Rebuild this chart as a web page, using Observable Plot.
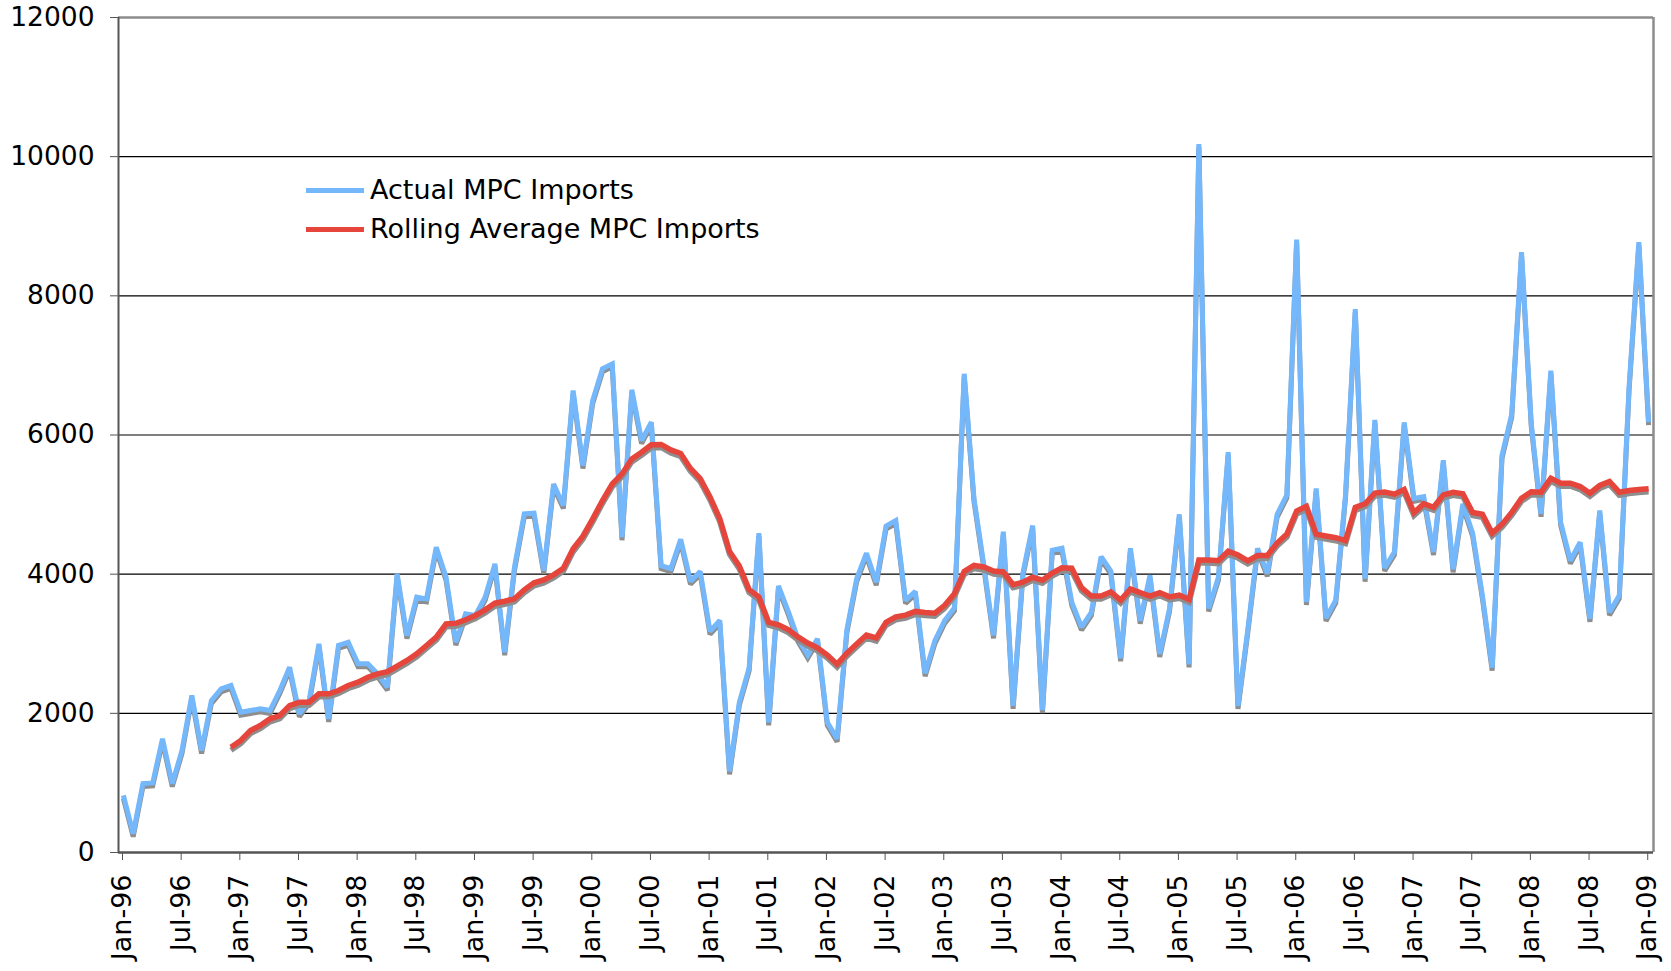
<!DOCTYPE html>
<html>
<head>
<meta charset="utf-8">
<script src="https://cdn.jsdelivr.net/npm/d3@7"></script>
<script src="https://cdn.jsdelivr.net/npm/@observablehq/plot@0.6"></script>
<style>
  body { margin: 0; background: #fff; }
  #wrap { position: relative; width: 1671px; height: 971px; overflow: hidden; }
  .legend-row { position: absolute; left: 306px; height: 38px; line-height: 38px; display: flex; align-items: center;
    font-family: "DejaVu Sans", Verdana, sans-serif; font-size: 27px; color: #000; white-space: nowrap; }
  .legend-row .sw { display: inline-block; width: 58px; height: 5px; margin-right: 6px; }
</style>
</head>
<body>
<div id="wrap"></div>
<script>
// Tick labels of the category axis (one every 6 months)
const xTickLabels = ["Jan-96","Jul-96","Jan-97","Jul-97","Jan-98","Jul-98","Jan-99","Jul-99","Jan-00","Jul-00",
  "Jan-01","Jul-01","Jan-02","Jul-02","Jan-03","Jul-03","Jan-04","Jul-04","Jan-05","Jul-05","Jan-06","Jul-06",
  "Jan-07","Jul-07","Jan-08","Jul-08","Jan-09"];
const yTicks = [0, 2000, 4000, 6000, 8000, 10000, 12000];
const seriesNames = ["Actual MPC Imports", "Rolling Average MPC Imports"];

// Monthly values Jan-96 .. Jan-09 (157 months)
const actual = [
  820, 270, 990, 1000, 1634, 990, 1470, 2256, 1466, 2184, 2352, 2400,
  2016, 2040, 2065, 2040, 2328, 2663, 1993, 2184, 2999, 1921, 2975, 3022,
  2711, 2711, 2568, 2375, 4005, 3118, 3669, 3645, 4388, 3957, 3022, 3430,
  3406, 3669, 4148, 2879, 4100, 4867, 4877, 4052, 5297, 4986, 6639, 5561,
  6495, 6951, 7022, 4531, 6649, 5920, 6184, 4124, 4080, 4500, 3900, 4039,
  3177, 3334, 1165, 2158, 2654, 4588, 1871, 3830, 3465, 3072, 2838, 3072,
  1871, 1635, 3203, 3935, 4301, 3883, 4692, 4771, 3621, 3752, 2577, 3046,
  3334, 3517, 6880, 5087, 4134, 3121, 4610, 2108, 4015, 4699, 2048, 4342,
  4372, 3597, 3240, 3449, 4253, 4044, 2793, 4372, 3330, 3985, 2852, 3508,
  4860, 2704, 10181, 3508, 3955, 5754, 2108, 3200, 4370, 4011, 4858, 5140,
  8810, 3601, 5232, 3370, 3627, 5140, 7809, 3934, 6218, 4088, 4319, 6182,
  5089, 5115, 4319, 5636, 4070, 5011, 4590, 3690, 2657, 5705, 6300, 8628,
  6160, 4867, 6926, 4747, 4196, 4459, 3358, 4915, 3453, 3693, 6686, 8770,
  6184
];
const rolling = [
  null, null, null, null, null, null, null, null, null, null, null, 1513,
  1609, 1753, 1825, 1921, 1969, 2112, 2160, 2160, 2280, 2280, 2328, 2400,
  2447, 2519, 2568, 2600, 2680, 2760, 2855, 2975, 3094, 3286, 3294, 3344,
  3406, 3487, 3583, 3611, 3645, 3775, 3875, 3918, 3990, 4086, 4364, 4546,
  4795, 5058, 5297, 5441, 5657, 5753, 5859, 5864, 5785, 5735, 5520, 5372,
  5110, 4797, 4327, 4117, 3778, 3673, 3308, 3271, 3203, 3098, 3010, 2942,
  2838, 2707, 2864, 2995, 3125, 3083, 3308, 3386, 3412, 3465, 3450, 3439,
  3553, 3720, 4040, 4125, 4103, 4044, 4032, 3848, 3884, 3955, 3914, 4015,
  4092, 4086, 3806, 3686, 3686, 3746, 3627, 3788, 3734, 3686, 3734, 3674,
  3698, 3638, 4205, 4205, 4193, 4330, 4275, 4190, 4268, 4268, 4447, 4575,
  4909, 4976, 4575, 4549, 4524, 4483, 4961, 5012, 5166, 5181, 5150, 5218,
  4884, 5012, 4961, 5140, 5177, 5155, 4887, 4862, 4590, 4715, 4888, 5090,
  5185, 5178, 5379, 5307, 5307, 5259, 5163, 5274, 5331, 5178, 5202, 5216,
  5226
];

const blue = "#74b8fb";
const red = "#e6453c";
const shadow = "#8e8e8e";

// Each month sits in the middle of its category slot
const data = actual.map((v, i) => ({ x: i + 0.5, actual: v, rolling: rolling[i] }));
const rollData = data.filter(d => d.rolling != null);
const nCats = actual.length;
const xTickPos = xTickLabels.map((_, k) => k * 6);

const lineOpts = { strokeWidth: 5, strokeLinejoin: "miter", strokeMiterlimit: 2, strokeLinecap: "butt" };

const chart = Plot.plot({
  width: 1671,
  height: 971,
  marginLeft: 118,
  marginRight: 18,
  marginTop: 17,
  marginBottom: 119,
  style: { fontFamily: "'DejaVu Sans', Verdana, sans-serif", fontSize: "27px", color: "#000", background: "#fff" },
  x: { domain: [0, nCats], axis: null, label: null },
  y: { domain: [0, 12000], axis: null, label: null },
  marks: [
    Plot.ruleY(yTicks.filter(t => t > 0 && t < 12000), { stroke: "#000", strokeWidth: 1.2 }),
    Plot.ruleY([12000], { stroke: "#8c8c8c", strokeWidth: 2.5 }),
    Plot.ruleX([nCats], { stroke: "#8c8c8c", strokeWidth: 2.5 }),
    Plot.line(data, { x: "x", y: "actual", stroke: shadow, dy: 3, ...lineOpts }),
    Plot.line(data, { x: "x", y: "actual", stroke: blue, ...lineOpts }),
    Plot.line(rollData, { x: "x", y: "rolling", stroke: shadow, dy: 3, ...lineOpts, strokeWidth: 5.5 }),
    Plot.line(rollData, { x: "x", y: "rolling", stroke: red, ...lineOpts, strokeWidth: 5.5 }),
    Plot.ruleY([0], { stroke: "#555", strokeWidth: 2.5 }),
    Plot.ruleX([0], { stroke: "#555", strokeWidth: 2 }),
    Plot.axisY({ ticks: yTicks, tickSize: 8, tickPadding: 16, tickFormat: d => String(d), stroke: "#555",
      fontSize: 26.5, label: null }),
    Plot.axisX({ ticks: xTickPos, tickSize: 8, tickPadding: 14, tickRotate: -90, stroke: "#555",
      tickFormat: d => xTickLabels[d / 6], fontSize: 27, dx: 4, label: null })
  ]
});

const wrap = document.getElementById("wrap");
wrap.appendChild(chart);

// Legend inside the plot area
[[seriesNames[0], blue, 171], [seriesNames[1], red, 210]].forEach(([name, color, top]) => {
  const row = document.createElement("div");
  row.className = "legend-row";
  row.style.top = top + "px";
  const sw = document.createElement("span");
  sw.className = "sw";
  sw.style.background = color;
  row.appendChild(sw);
  row.appendChild(document.createTextNode(name));
  wrap.appendChild(row);
});
</script>
</body>
</html>
